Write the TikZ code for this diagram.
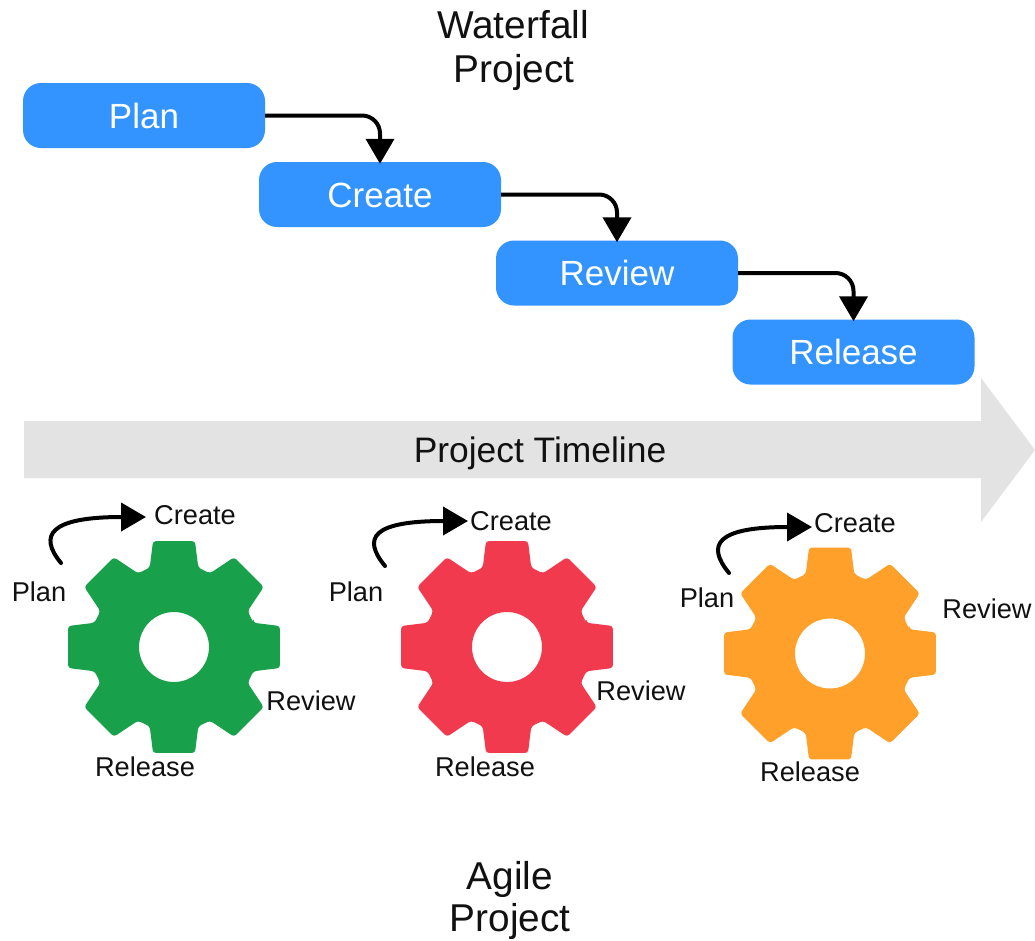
\documentclass[tikz,border=0pt]{standalone}
\usepackage{fontspec}
\setmainfont{Liberation Sans}
\usetikzlibrary{arrows.meta}
\definecolor{boxblue}{HTML}{3394FF}
\definecolor{timegray}{HTML}{E3E3E3}
\definecolor{geargreen}{HTML}{18A04A}
\definecolor{gearred}{HTML}{F23A4E}
\definecolor{gearorange}{HTML}{FFA02A}
\definecolor{inkblack}{HTML}{111111}
\tikzset{
  x=1pt,y=-1pt,
  stage/.style={fill=boxblue,rounded corners=18pt,minimum width=242pt,minimum height=65pt,inner sep=0pt,text=white,font=\fontsize{35}{35}\selectfont,text height=25.2pt,text depth=0pt},
  flow/.style={line width=4pt,draw=black,rounded corners=18pt,shorten >=-2pt,-{Triangle[length=25pt,width=28pt]}},
  cycleflow/.style={line width=4pt,draw=black,line cap=round,shorten >=-2pt,-{Triangle[length=25pt,width=28pt]}},
  title/.style={inner sep=0pt,text=inkblack,font=\fontsize{38.8}{38.8}\selectfont,text height=27.9pt,text depth=0pt},
  small/.style={inner sep=0pt,text=inkblack,font=\fontsize{27.2}{27.2}\selectfont,text height=19.6pt,text depth=0pt},
  timeline/.style={inner sep=0pt,text=inkblack,font=\fontsize{35.4}{35.4}\selectfont,text height=25.5pt,text depth=0pt},
}
\newcommand{\cog}[3]{%
  \begin{scope}[shift={(#1,#2)}]
    \fill[#3,rounded corners=3pt,even odd rule]
      (-17:83)
      \foreach \a/\b/\r in {0/17/83,45/19/82,90/17/83,135/19/82,180/17/83,225/19/82,270/17/83,315/19/82}{
        -- (\a-\b:\r) -- (\a-11.2:108) -- (\a+11.2:108) -- (\a+\b:\r)
      } -- cycle
      [sharp corners] (0,0) circle[radius=35pt];
  \end{scope}}
\begin{document}
\begin{tikzpicture}
\useasboundingbox[fill=white] (0,0) rectangle (1035,940);
% timeline arrow
\fill[timegray] (24,421) -- (981,421) -- (981,378) -- (1035,450) -- (981,522) -- (981,478) -- (24,478) -- cycle;
\node[timeline] (tl) at (540,450) {Project Timeline};
% waterfall
\node[title] (wf1) at (513,25) {Waterfall};
\node[title] (wf2) at (514,69) {Project};
\node[stage] (plan) at (144,115.5) {Plan};
\node[stage] (create) at (380,194.5) {Create};
\node[stage] (review) at (617,273) {Review};
\node[stage] (release) at (853.5,352) {Release};
\draw[flow] (plan.east) -| (create.north);
\draw[flow] (create.east) -| (review.north);
\draw[flow] (review.east) -| (release.north);
% gears
\cog{174}{647}{geargreen}
\cog{507}{647}{gearred}
\cog{830}{653.5}{gearorange}
% labels
\node[small] (c1) at (195,515) {Create};
\node[small] (p1) at (39,592) {Plan};
\node[small] (r1) at (311,701) {Review};
\node[small] (l1) at (145,767) {Release};
\node[small] (c2) at (511,521) {Create};
\node[small] (p2) at (356,592) {Plan};
\node[small] (r2) at (641,691) {Review};
\node[small] (l2) at (485,767) {Release};
\node[small] (c3) at (855,523) {Create};
\node[small] (p3) at (707,598) {Plan};
\node[small] (r3) at (987,609) {Review};
\node[small] (l3) at (810,772) {Release};
% agile arrows
\coordinate (s1) at (61,563); \coordinate (e1) at (144,517);
\coordinate (s2) at (385,566); \coordinate (e2) at (466,521);
\coordinate (s3) at (729,573); \coordinate (e3) at (810,527);
\draw[cycleflow] (s1) .. controls +(-23,-28) and +(-94,0) .. (e1);
\draw[cycleflow] (s2) .. controls +(-23,-28) and +(-94,0) .. (e2);
\draw[cycleflow] (s3) .. controls +(-23,-28) and +(-94,0) .. (e3);
% agile title
\node[title] (ag1) at (510,876) {Agile};
\node[title] (ag2) at (510,918) {Project};
\end{tikzpicture}
\end{document}
